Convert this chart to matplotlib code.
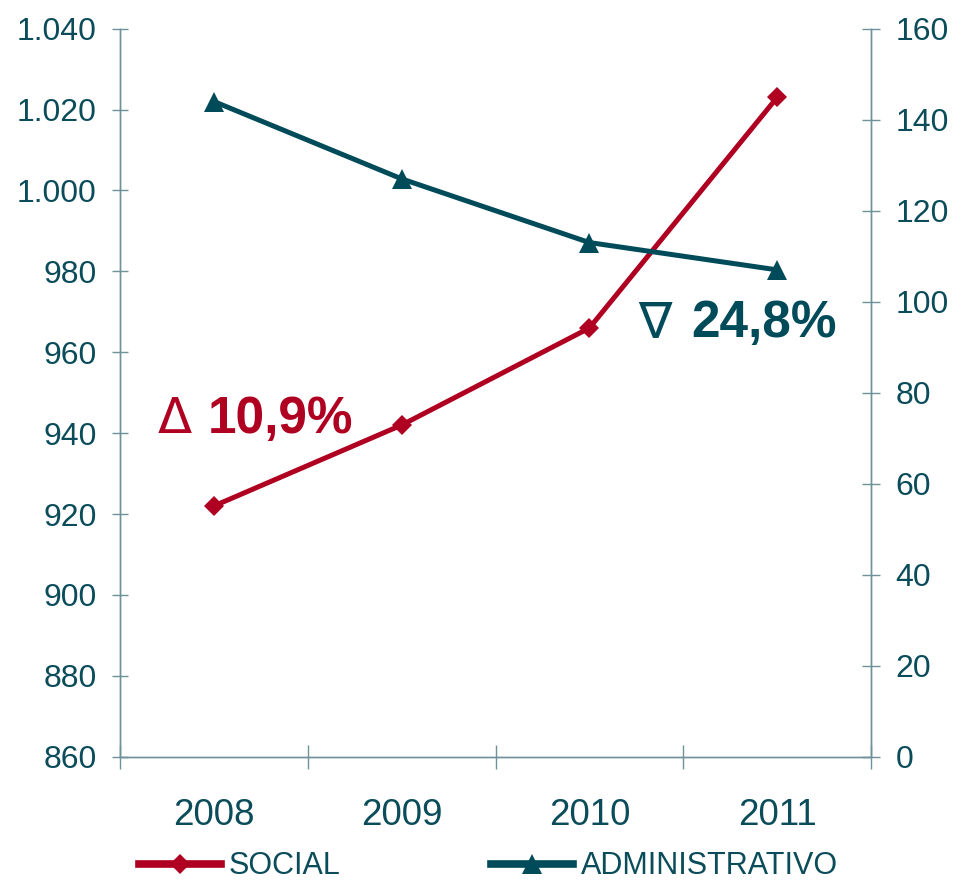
import numpy as np
import matplotlib.pyplot as plt
from matplotlib.ticker import FuncFormatter

plt.rcParams['font.family'] = ['Liberation Sans', 'DejaVu Sans']

# data
years = ['2008', '2009', '2010', '2011']
social = [922, 942, 966, 1023]
admin = [144, 127, 113, 107]
social_lbl = '10,9%'
admin_lbl = '24,8%'

red = '#AF0021'
teal = '#004B59'
txt = '#0B4C5A'
axc = '#6F9299'

fig = plt.figure(figsize=(9.54, 8.83), dpi=100)
ax = fig.add_axes([0.1258, 0.143, 0.7872, 0.8245])
ax2 = ax.twinx()

x = np.arange(len(years))
l1, = ax.plot(x, social, color=red, lw=3.6, marker='D', ms=10, mew=0, label='SOCIAL')
l2, = ax2.plot(x, admin, color=teal, lw=3.6, marker='^', ms=14, mew=0, label='ADMINISTRATIVO')

ax.set_xlim(-0.5, 3.5)
ax.set_ylim(860, 1040)
ax.set_yticks(np.arange(860, 1041, 20))
ax.yaxis.set_major_formatter(FuncFormatter(lambda v, p: f'{int(v):,}'.replace(',', '.')))
ax2.set_ylim(0, 160)
ax2.set_yticks(np.arange(0, 161, 20))

# year labels centred between boundary ticks
ax.set_xticks(np.arange(-0.5, 3.6, 1))
ax.set_xticklabels([])
ax.set_xticks(x, minor=True)
ax.set_xticklabels(years, minor=True)
ax.tick_params(axis='x', which='major', direction='inout', length=17, width=1, color=axc)
ax.tick_params(axis='x', which='minor', length=0, pad=30, labelsize=26.5, labelcolor=txt)
ax.tick_params(axis='y', direction='inout', length=12, width=1, color=axc,
               pad=11, labelsize=23, labelcolor=txt)
ax2.tick_params(axis='y', direction='inout', length=13, width=1, color=axc,
                pad=11, labelsize=23, labelcolor=txt)

for a in (ax, ax2):
    a.spines['top'].set_visible(False)
    for s in ('left', 'right', 'bottom'):
        a.spines[s].set_color(axc)
        a.spines[s].set_linewidth(1)

# growth annotations
ax.text(0.050, 0.444, '\u0394', transform=ax.transAxes, color=red, fontsize=36,
        family='DejaVu Sans', va='baseline')
ax.text(0.117, 0.444, social_lbl, transform=ax.transAxes, color=red, fontsize=37,
        fontweight='bold', va='baseline')
ax2.text(0.690, 0.577, '\u2207', transform=ax.transAxes, color=teal, fontsize=36,
         family='DejaVu Sans', va='baseline')
ax2.text(0.760, 0.577, admin_lbl, transform=ax.transAxes, color=teal, fontsize=37,
         fontweight='bold', va='baseline')

leg = fig.legend(handles=[l1, l2], loc='center', bbox_to_anchor=(0.512, 0.019),
                 ncol=2, frameon=False, fontsize=22, handlelength=2.7,
                 handletextpad=0.25, columnspacing=4.9, labelcolor=txt,
                 borderaxespad=0)
for h in leg.legend_handles:
    h.set_linewidth(5.5)

fig.savefig('out.png', dpi=100)
